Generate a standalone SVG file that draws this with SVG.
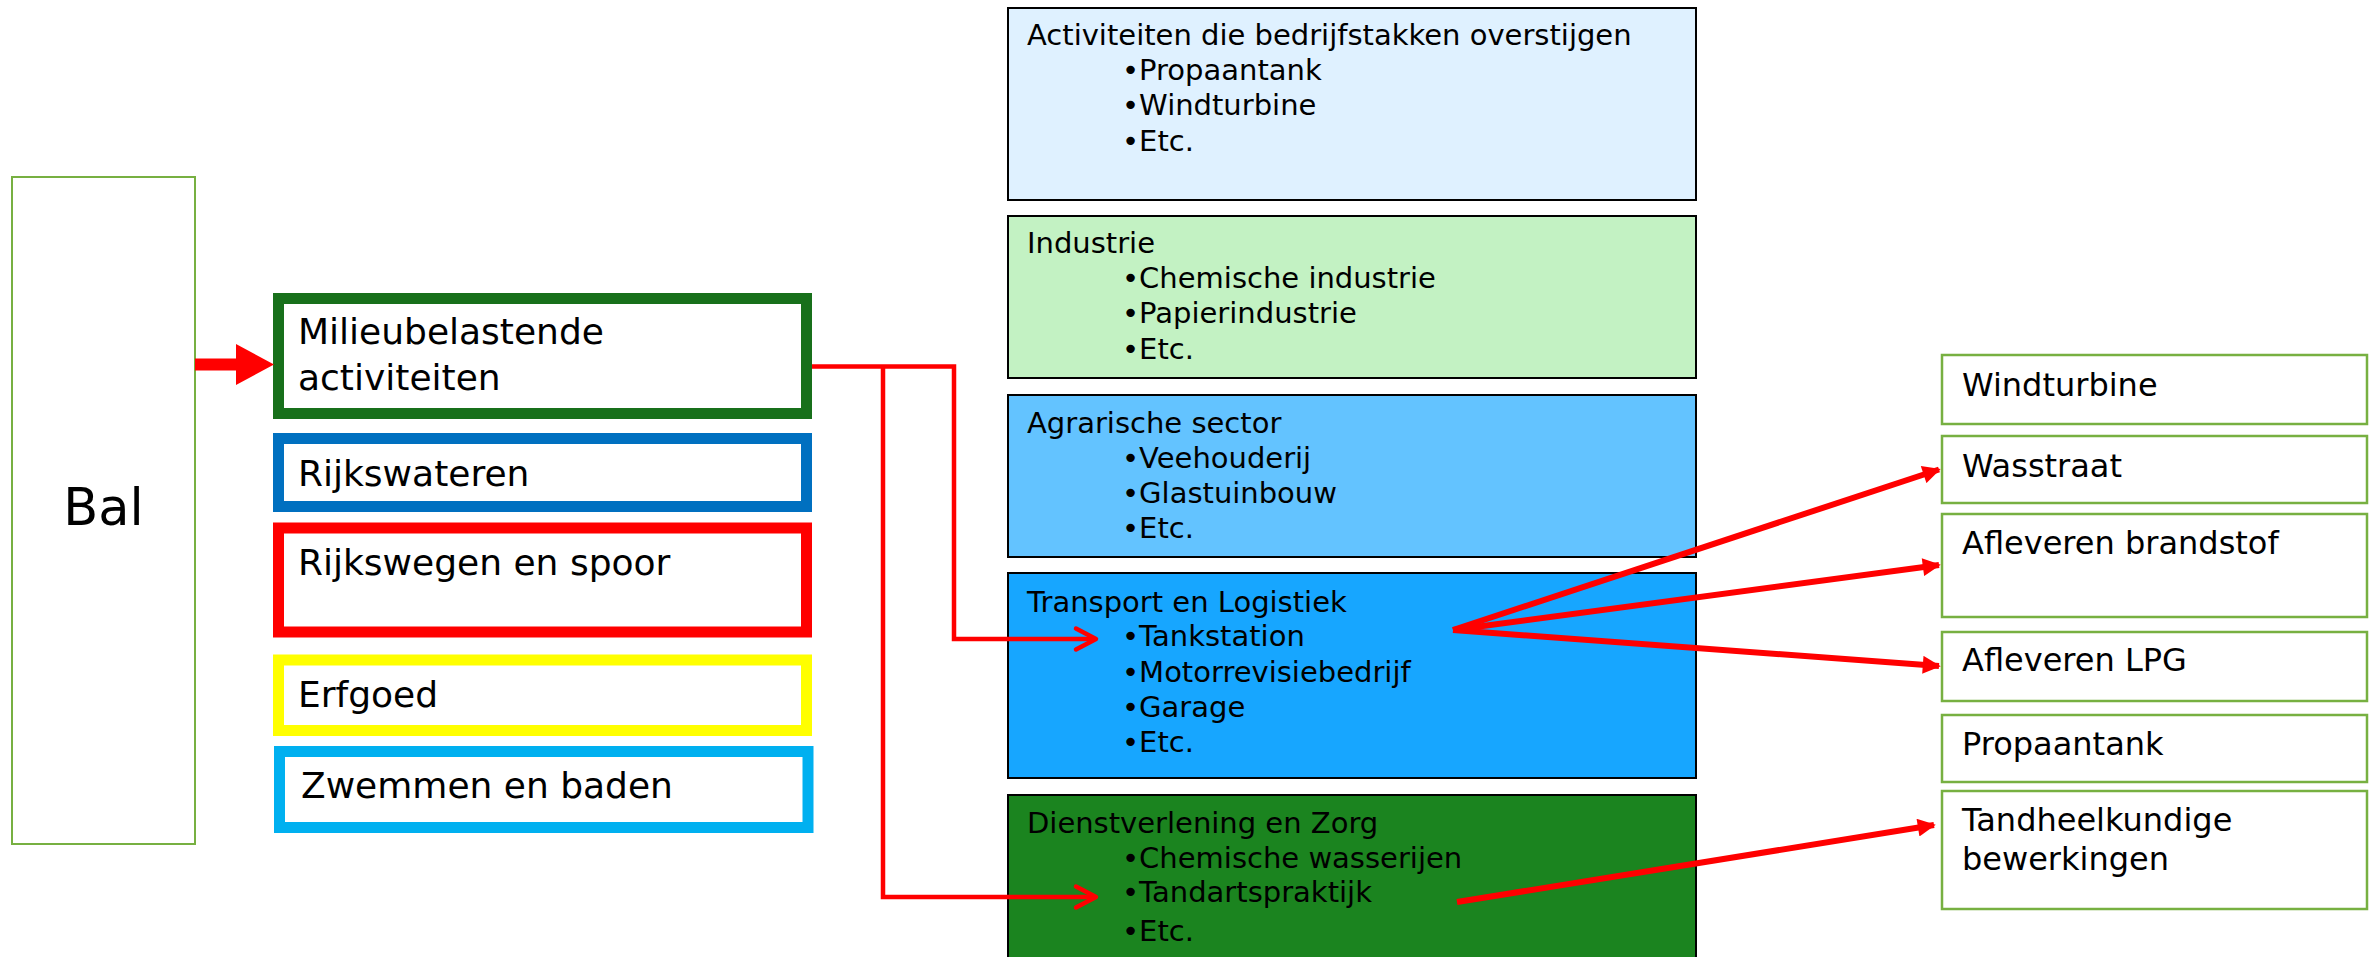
<svg xmlns="http://www.w3.org/2000/svg" width="2377" height="957" viewBox="0 0 2377 957">
<style>
text{font-family:"DejaVu Sans","Liberation Sans",sans-serif;fill:#000}
.lt{font-size:36px}
.mt{font-size:29px}
.rt{font-size:32px}
.mid{stroke:#000;stroke-width:2}
.rb{fill:#fff;stroke:#77B041;stroke-width:2.5}
.conn{fill:none;stroke:#FF0000;stroke-width:4.5;stroke-linejoin:miter}
.fan{fill:none;stroke:#FF0000;stroke-width:6}
.chev{fill:none;stroke:#FF0000;stroke-width:4.5;stroke-linecap:round;stroke-linejoin:round}
</style>
<defs>
<marker id="tri" viewBox="0 0 10 10" refX="9" refY="5" markerWidth="3.4" markerHeight="3" orient="auto" markerUnits="strokeWidth">
<path d="M0,0 L10,5 L0,10 Z" fill="#FF0000"/>
</marker>
</defs>
<rect width="2377" height="957" fill="#fff"/>
<g id="bal">
<rect x="12" y="177" width="183" height="667" fill="#fff" stroke="#77B041" stroke-width="2"/>
<text x="103.5" y="525" font-size="51" text-anchor="middle">Bal</text>
</g>
<g id="milieu">
<rect x="278.5" y="298.5" width="528" height="115" fill="#fff" stroke="#18701B" stroke-width="11"/>
<text class="lt" x="298" y="344">Milieubelastende</text>
<text class="lt" x="298" y="390">activiteiten</text>
</g>
<g id="rijkswateren">
<rect x="278.5" y="438.5" width="528" height="68" fill="#fff" stroke="#0070C0" stroke-width="11"/>
<text class="lt" x="298" y="486">Rijkswateren</text>
</g>
<g id="rijkswegen">
<rect x="278.5" y="528" width="528" height="104" fill="#fff" stroke="#FF0000" stroke-width="11"/>
<text class="lt" x="298" y="575">Rijkswegen en spoor</text>
</g>
<g id="erfgoed">
<rect x="278.5" y="660" width="528" height="70.5" fill="#fff" stroke="#FFFF00" stroke-width="11"/>
<text class="lt" x="298" y="707">Erfgoed</text>
</g>
<g id="zwemmen">
<rect x="279.5" y="751.5" width="528.5" height="76" fill="#fff" stroke="#00B0F0" stroke-width="11"/>
<text class="lt" x="301" y="798">Zwemmen en baden</text>
</g>
<g id="overstijgen">
<rect class="mid" x="1008" y="8" width="688" height="192" fill="#DFF1FF"/>
<text class="mt" x="1027" y="45">Activiteiten die bedrijfstakken overstijgen</text>
<text class="mt" x="1122" y="80">•Propaantank</text>
<text class="mt" x="1122" y="115">•Windturbine</text>
<text class="mt" x="1122" y="150.5">•Etc.</text>
</g>
<g id="industrie">
<rect class="mid" x="1008" y="216" width="688" height="162" fill="#C3F2C3"/>
<text class="mt" x="1027" y="253">Industrie</text>
<text class="mt" x="1122" y="288">•Chemische industrie</text>
<text class="mt" x="1122" y="323">•Papierindustrie</text>
<text class="mt" x="1122" y="359">•Etc.</text>
</g>
<g id="agrarisch">
<rect class="mid" x="1008" y="395" width="688" height="162" fill="#63C3FF"/>
<text class="mt" x="1027" y="433">Agrarische sector</text>
<text class="mt" x="1122" y="468">•Veehouderij</text>
<text class="mt" x="1122" y="503">•Glastuinbouw</text>
<text class="mt" x="1122" y="537.5">•Etc.</text>
</g>
<g id="transport">
<rect class="mid" x="1008" y="573" width="688" height="205" fill="#17A6FF"/>
<text class="mt" x="1027" y="612">Transport en Logistiek</text>
<text class="mt" x="1122" y="646">•Tankstation</text>
<text class="mt" x="1122" y="681.5">•Motorrevisiebedrijf</text>
<text class="mt" x="1122" y="716.5">•Garage</text>
<text class="mt" x="1122" y="752">•Etc.</text>
</g>
<g id="dienstverlening">
<rect class="mid" x="1008" y="795" width="688" height="175" fill="#1B841F"/>
<text class="mt" x="1027" y="833">Dienstverlening en Zorg</text>
<text class="mt" x="1122" y="867.5">•Chemische wasserijen</text>
<text class="mt" x="1122" y="902">•Tandartspraktijk</text>
<text class="mt" x="1122" y="941">•Etc.</text>
</g>
<g id="r-windturbine">
<rect class="rb" x="1942" y="355" width="425" height="69"/>
<text class="rt" x="1962" y="395.5">Windturbine</text>
</g>
<g id="r-wasstraat">
<rect class="rb" x="1942" y="436" width="425" height="67"/>
<text class="rt" x="1962" y="476.5">Wasstraat</text>
</g>
<g id="r-brandstof">
<rect class="rb" x="1942" y="514" width="425" height="103"/>
<text class="rt" x="1962" y="554">Afleveren brandstof</text>
</g>
<g id="r-lpg">
<rect class="rb" x="1942" y="632" width="425" height="69"/>
<text class="rt" x="1962" y="671">Afleveren LPG</text>
</g>
<g id="r-propaantank">
<rect class="rb" x="1942" y="715" width="425" height="67"/>
<text class="rt" x="1962" y="755">Propaantank</text>
</g>
<g id="r-tandheelkundig">
<rect class="rb" x="1942" y="791" width="425" height="118"/>
<text class="rt" x="1962" y="831">Tandheelkundige</text>
<text class="rt" x="1962" y="870">bewerkingen</text>
</g>
<g id="connectors">
<polygon points="195,358.5 236,358.5 236,344 274,364.5 236,385 236,370.5 195,370.5" fill="#FF0000"/>
<polyline class="conn" points="812,366.5 954,366.5 954,639 1095,639"/>
<polyline class="conn" points="883,366.5 883,897 1095,897"/>
<polyline class="chev" points="1076,628.5 1096,639 1076,649.5"/>
<polyline class="chev" points="1076,886.5 1096,897 1076,907.5"/>
<line class="fan" x1="1453" y1="630" x2="1939" y2="469.5" marker-end="url(#tri)"/>
<line class="fan" x1="1453" y1="630" x2="1939" y2="565" marker-end="url(#tri)"/>
<line class="fan" x1="1453" y1="630" x2="1939" y2="666" marker-end="url(#tri)"/>
<line class="fan" x1="1457" y1="902" x2="1934" y2="825" marker-end="url(#tri)"/>
</g>
</svg>
